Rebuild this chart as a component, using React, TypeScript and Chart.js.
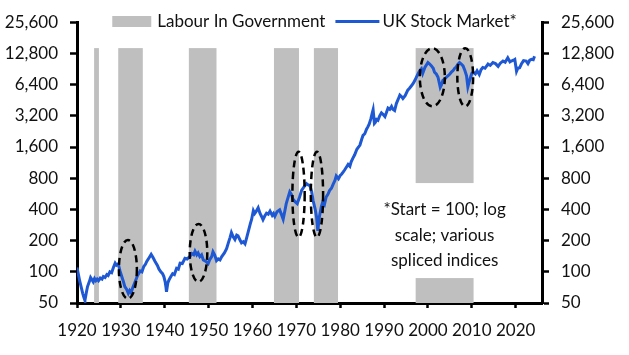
import React, { useEffect, useRef } from 'react';
import { Chart, registerables } from 'chart.js';

Chart.register(...registerables);

// ---- Data ----
const years = [
  1920.0, 1920.3, 1920.6, 1921.0, 1921.3, 1921.6, 1921.8, 1922.1, 1922.4, 1922.8,
  1923.1, 1923.4, 1923.7, 1924.0, 1924.3, 1924.6, 1924.9, 1925.3, 1925.7, 1926.0,
  1926.4, 1926.8, 1927.1, 1927.5, 1927.9, 1928.3, 1928.7, 1929.0, 1929.4, 1929.8,
  1930.2, 1930.6, 1930.9, 1931.3, 1931.7, 1932.0, 1932.3, 1932.7, 1933.2, 1933.8,
  1934.4, 1934.8, 1935.2, 1935.6, 1935.9, 1936.4, 1936.9, 1937.3, 1937.8, 1938.3,
  1938.7, 1939.1, 1939.5, 1939.8, 1940.1, 1940.3, 1940.4, 1940.7, 1941.0, 1941.4,
  1941.8, 1942.2, 1942.7, 1943.1, 1943.5, 1944.0, 1944.6, 1945.1, 1945.7, 1946.2,
  1946.6, 1946.9, 1947.3, 1947.6, 1948.0, 1948.4, 1948.8, 1949.4, 1949.9, 1950.3,
  1950.7, 1951.0, 1951.4, 1951.8, 1952.2, 1952.6, 1953.0, 1953.6, 1954.1, 1954.5,
  1954.9, 1955.2, 1955.6, 1956.0, 1956.4, 1956.7, 1957.1, 1957.5, 1957.9, 1958.3,
  1958.7, 1959.1, 1959.5, 1959.8, 1960.2, 1960.5, 1960.8, 1961.3, 1961.7, 1962.1,
  1962.4, 1962.8, 1963.2, 1963.6, 1964.0, 1964.5, 1964.8, 1965.1, 1965.6, 1966.2,
  1966.6, 1967.0, 1967.4, 1967.7, 1968.1, 1968.5, 1968.9, 1969.2, 1969.7, 1970.2,
  1970.7, 1971.2, 1971.8, 1972.3, 1972.7, 1973.1, 1973.5, 1973.8, 1974.3, 1974.6,
  1974.9, 1975.2, 1975.7, 1976.0, 1976.4, 1976.8, 1977.2, 1977.6, 1978.0, 1978.4,
  1978.8, 1979.1, 1979.6, 1980.0, 1980.3, 1980.7, 1981.0, 1981.4, 1981.8, 1982.2,
  1982.5, 1982.9, 1983.3, 1983.8, 1984.2, 1984.5, 1984.9, 1985.2, 1985.6, 1986.0,
  1986.3, 1986.6, 1987.0, 1987.3, 1987.5, 1987.8, 1988.0, 1988.3, 1988.6, 1989.0,
  1989.4, 1989.8, 1990.2, 1990.5, 1990.9, 1991.3, 1991.7, 1992.0, 1992.4, 1992.8,
  1993.2, 1993.6, 1994.0, 1994.3, 1994.8, 1995.4, 1995.8, 1996.2, 1996.6, 1997.0,
  1997.4, 1997.7, 1998.1, 1998.5, 1998.8, 1999.3, 2000.0, 2000.4, 2000.8, 2001.2,
  2001.5, 2001.9, 2002.3, 2002.6, 2002.8, 2003.1, 2003.4, 2003.9, 2004.2, 2004.6,
  2005.0, 2005.4, 2005.7, 2006.1, 2006.4, 2006.8, 2007.2, 2007.6, 2008.0, 2008.4,
  2008.8, 2009.1, 2009.4, 2009.7, 2010.0, 2010.3, 2010.8, 2011.2, 2011.7, 2012.1,
  2012.5, 2013.0, 2013.7, 2014.2, 2014.8, 2015.4, 2016.0, 2016.5, 2017.1, 2017.6,
  2018.2, 2018.7, 2019.0, 2019.5, 2019.8, 2020.2, 2020.5, 2020.9, 2021.3, 2021.8,
  2022.4, 2022.8, 2023.2, 2023.6, 2024.0, 2024.3,
];
const stockValues = [
  110, 95, 82, 70, 62, 56, 53, 62, 72, 80,
  88, 84, 80, 86, 82, 85, 82, 87, 85, 90,
  88, 94, 92, 100, 98, 110, 121, 116, 119, 102,
  90, 80, 72, 68, 62, 66, 63, 70, 79, 92,
  102, 100, 112, 118, 126, 136, 147, 138, 126, 116,
  106, 100, 96, 90, 80, 70, 64, 78, 84, 90,
  96, 94, 108, 106, 121, 120, 135, 133, 140, 150,
  146, 158, 146, 152, 140, 146, 130, 126, 120, 132,
  140, 156, 145, 128, 133, 130, 140, 152, 167, 190,
  215, 239, 218, 205, 226, 222, 205, 190, 195, 186,
  215, 250, 290, 320, 388, 365, 380, 415, 368, 340,
  318, 345, 368, 360, 385, 350, 365, 343, 380, 396,
  358, 322, 390, 456, 520, 590, 555, 505, 475, 455,
  520, 610, 665, 710, 690, 680, 590, 490, 400, 340,
  248, 330, 425, 470, 445, 527, 560, 610, 640, 700,
  760, 841, 790, 850, 873, 920, 960, 1020, 1085, 1040,
  1150, 1250, 1346, 1520, 1600, 1672, 1900, 2070, 2150, 2375,
  2500, 2660, 3000, 3400, 3660, 2700, 2760, 2950, 2900, 3200,
  3420, 3300, 3150, 3400, 3800, 3700, 3940, 3700, 3600, 4200,
  4600, 5080, 4900, 4700, 5000, 5660, 5900, 6200, 6530, 7000,
  7600, 8080, 8700, 9100, 8200, 9370, 10450, 10100, 9700, 9200,
  8430, 8100, 7540, 6600, 6030, 6400, 7020, 7300, 7540, 7790,
  8100, 8500, 8700, 9200, 9400, 10000, 10450, 10100, 9710, 8800,
  7790, 6100, 6800, 7500, 8200, 8430, 8100, 8700, 8000, 8900,
  9370, 9200, 10100, 9800, 10450, 10200, 9600, 10300, 10800, 10500,
  11600, 10600, 10800, 11000, 11200, 8600, 9200, 9300, 10100, 10900,
  10800, 10200, 11000, 11200, 11100, 12000,
];

const labourStart = [1923.9, 1929.4, 1945.5, 1964.9, 1974.0, 1997.2];
const labourEnd = [1925.0, 1935.0, 1951.8, 1970.6, 1979.5, 2010.4];
const labourTop = 14400;

const ellipseYear = [1931.6, 1947.7, 1970.5, 1974.7, 2001.0, 2008.5];
const ellipseHalfYears = [2.05, 2.0, 1.4, 1.4, 2.85, 1.8];
const ellipseLow = [55, 80, 215, 215, 3945, 3945];
const ellipseHigh = [203, 290, 1443, 1443, 14384, 14384];

const yTicks = [50, 100, 200, 400, 800, 1600, 3200, 6400, 12800, 25600];
const xTicks = [1920, 1930, 1940, 1950, 1960, 1970, 1980, 1990, 2000, 2010, 2020];

const noteLines = ['*Start = 100; log', 'scale; various', 'spliced indices'];
const legendLabels = ['Labour In Government', 'UK Stock Market*'];

// ---- Styles ----
const FONT = 'Lato, "Liberation Sans", sans-serif';
const FONT_SIZE = 17;
const BLUE = '#1f58d3';
const GREY = '#bfbfbf';
const TEXT = '#111111';

const noteBox = { x0: 1988.5, x1: 2020, yLow: 87, yHigh: 718, cx: 2003.8, cyValue: 224, lineGap: 25.5 };

const overlay = {
  id: 'overlay',
  beforeDatasetsDraw(chart: any) {
    const { ctx, chartArea, scales } = chart;
    const x = scales.x;
    const y = scales.y;
    ctx.save();
    ctx.fillStyle = GREY;
    const top = y.getPixelForValue(labourTop);
    for (let i = 0; i < labourStart.length; i++) {
      const x0 = x.getPixelForValue(labourStart[i]);
      const x1 = x.getPixelForValue(labourEnd[i]);
      ctx.fillRect(x0, top, x1 - x0, chartArea.bottom - top);
    }
    const bx0 = x.getPixelForValue(noteBox.x0);
    const bx1 = x.getPixelForValue(noteBox.x1);
    const by0 = y.getPixelForValue(noteBox.yHigh);
    const by1 = y.getPixelForValue(noteBox.yLow);
    ctx.fillStyle = '#ffffff';
    ctx.fillRect(bx0, by0, bx1 - bx0, by1 - by0);
    ctx.fillStyle = TEXT;
    ctx.font = `${FONT_SIZE}px ${FONT}`;
    ctx.textAlign = 'center';
    ctx.textBaseline = 'middle';
    const cx = x.getPixelForValue(noteBox.cx);
    const cy = y.getPixelForValue(noteBox.cyValue);
    noteLines.forEach((t, i) => {
      ctx.fillText(t, cx, cy + (i - 1) * noteBox.lineGap);
    });
    ctx.restore();
  },
  afterDatasetsDraw(chart: any) {
    const { ctx, scales } = chart;
    const x = scales.x;
    const y = scales.y;
    ctx.save();
    ctx.strokeStyle = '#000';
    ctx.lineWidth = 2.5;
    ctx.setLineDash([7, 4.5]);
    for (let i = 0; i < ellipseYear.length; i++) {
      const cx = x.getPixelForValue(ellipseYear[i]);
      const rx = x.getPixelForValue(ellipseYear[i] + ellipseHalfYears[i]) - cx;
      const yt = y.getPixelForValue(ellipseHigh[i]);
      const yb = y.getPixelForValue(ellipseLow[i]);
      ctx.beginPath();
      ctx.ellipse(cx, (yt + yb) / 2, rx, (yb - yt) / 2, 0, 0, Math.PI * 2);
      ctx.stroke();
    }
    ctx.restore();
  },
  afterDraw(chart: any) {
    const { ctx, width } = chart;
    ctx.save();
    ctx.font = `${FONT_SIZE}px ${FONT}`;
    ctx.textBaseline = 'middle';
    ctx.textAlign = 'left';
    const w1 = ctx.measureText(legendLabels[0]).width;
    const w2 = ctx.measureText(legendLabels[1]).width;
    const boxW = 39, lineW = 44, gap1 = 6, gap2 = 3, itemGap = 10;
    const total = boxW + gap1 + w1 + itemGap + lineW + gap2 + w2;
    let px = width / 2 - total / 2;
    const cy = 21.5;
    ctx.fillStyle = GREY;
    ctx.fillRect(px, cy - 5.5, boxW, 11);
    px += boxW + gap1;
    ctx.fillStyle = TEXT;
    ctx.fillText(legendLabels[0], px, cy);
    px += w1 + itemGap;
    ctx.strokeStyle = BLUE;
    ctx.lineWidth = 3;
    ctx.beginPath();
    ctx.moveTo(px, cy);
    ctx.lineTo(px + lineW, cy);
    ctx.stroke();
    px += lineW + gap2;
    ctx.fillText(legendLabels[1], px, cy);
    ctx.restore();
  },
};

const yAxis = (position: 'left' | 'right', w: number) => ({
  type: 'logarithmic',
  position,
  min: 50,
  max: 25600,
  z: 1,
  afterBuildTicks: (s: any) => {
    s.ticks = yTicks.map((v) => ({ value: v }));
  },
  afterFit: (s: any) => {
    s.width = w;
  },
  ticks: {
    autoSkip: false,
    padding: 12,
    color: TEXT,
    font: { size: FONT_SIZE, family: FONT },
    callback: (v: any) => Number(v).toLocaleString('en-US'),
  },
  grid: {
    drawOnChartArea: false,
    drawTicks: true,
    tickLength: 7,
    tickWidth: 2.5,
    tickColor: '#000',
  },
  border: { display: true, color: '#000', width: 3 },
});

export default function App() {
  const ref = useRef<HTMLCanvasElement>(null);
  useEffect(() => {
    if (!ref.current) return;
    const chart = new Chart(ref.current, {
      type: 'line',
      data: {
        datasets: [
          {
            label: legendLabels[1],
            data: years.map((yr, i) => ({ x: yr, y: stockValues[i] })),
            borderColor: BLUE,
            borderWidth: 3,
            pointRadius: 0,
            tension: 0,
            yAxisID: 'y',
          },
        ],
      },
      options: {
        animation: false,
        responsive: true,
        maintainAspectRatio: false,
        devicePixelRatio: 1,
        layout: { padding: { top: 13, left: 0, right: 0, bottom: 0 } },
        plugins: { legend: { display: false }, tooltip: { enabled: false } },
        scales: {
          x: {
            type: 'linear',
            min: 1920,
            max: 2026,
            z: 1,
            afterBuildTicks: (s: any) => {
              s.ticks = xTicks.map((v) => ({ value: v }));
            },
            afterFit: (s: any) => {
              s.height = 52;
            },
            ticks: {
              autoSkip: false,
              maxRotation: 0,
              padding: 12,
              color: TEXT,
              font: { size: FONT_SIZE, family: FONT },
              callback: (v: any) => String(v),
            },
            grid: {
              drawOnChartArea: false,
              drawTicks: true,
              tickLength: 5,
              tickWidth: 2.5,
              tickColor: '#000',
            },
            border: { display: true, color: '#000', width: 3 },
          },
          y: yAxis('left', 77) as any,
          y2: yAxis('right', 87) as any,
        },
      } as any,
      plugins: [overlay],
    });
    return () => chart.destroy();
  }, []);
  return (
    <div style={{ position: 'absolute', left: 0, top: 0, width: 629, height: 355 }}>
      <canvas ref={ref} />
    </div>
  );
}
